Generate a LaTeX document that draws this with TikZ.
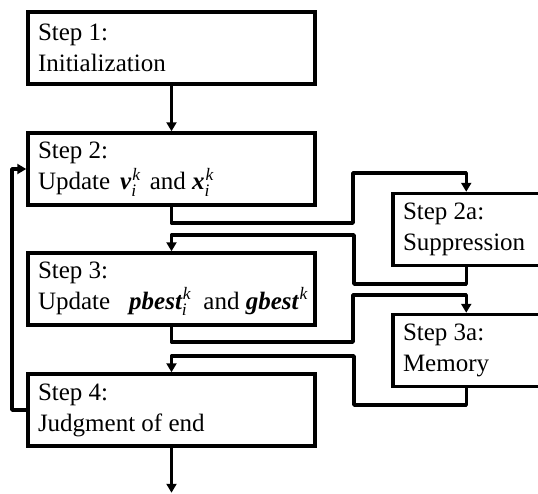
\documentclass[tikz,border=0pt]{standalone}
\usepackage{amsmath}
\usepackage{fontspec}
\setmainfont{Liberation Serif}
\usetikzlibrary{arrows.meta}
\newcommand{\bvar}[1]{\text{\bfseries\itshape #1}}
\newcommand{\ivar}[1]{\text{\itshape #1}}
\begin{document}
\begin{tikzpicture}[x=1pt,y=-1pt,
  stepbox/.style={draw,line width=3.5pt,inner xsep=10pt,inner ysep=0pt,
    minimum height=72pt,text width=#1,align=flush left,
    font=\fontsize{25}{31}\selectfont},
  stepbox/.default=267pt,
  arr/.style={line width=3.5pt,line join=round,-{Triangle[length=9pt,width=10pt]}}]
\useasboundingbox (0,0) rectangle (538,493);
\node[stepbox] (b1) at (171.5,48) {Step 1:\\Initialization};
\node[stepbox] (b2) at (171.5,169) {Step 2:\\\mbox{Update\hspace{10pt}$\bvar{v}_{\ivar{i}}^{\kern1pt\ivar{k}}$\hspace{3pt} and $\bvar{x}_{\ivar{i}}^{\kern1pt\ivar{k}}$}};
\node[stepbox] (b3) at (171.5,289) {Step 3:\\\mbox{Update\hspace{19pt}$\bvar{pbest}_{\ivar{i}}^{\kern1pt\ivar{k}}$\hspace{6pt} and $\bvar{gbest}^{\kern1pt\ivar{k}}$}};
\node[stepbox] (b4) at (171.5,410) {Step 4:\\Judgment of end};
\node[stepbox=137pt] (b2a) at (471.5,229.5) {Step 2a:\\Suppression};
\node[stepbox=137pt] (b3a) at (471.5,350.5) {Step 3a:\\Memory};
\draw[arr] (b1) -- (b2);
\draw[arr] (b2.south) |- (353,223) -- (353,173) -| ([xshift=75pt]b2a.north west);
\draw[arr] ([xshift=75pt]b2a.south west) |- (354,284) -- (354,235) -| (b3.north);
\draw[arr] (b3.south) |- (353,342) -- (353,295) -| ([xshift=75pt]b3a.north west);
\draw[arr] ([xshift=75pt]b3a.south west) |- (354,405) -- (354,356) -| (b4.north);
\draw[arr] (b4.west) -- (12,410) |- (b2.west);
\draw[arr] (b4.south) -- ++(0,45);
\end{tikzpicture}
\end{document}
